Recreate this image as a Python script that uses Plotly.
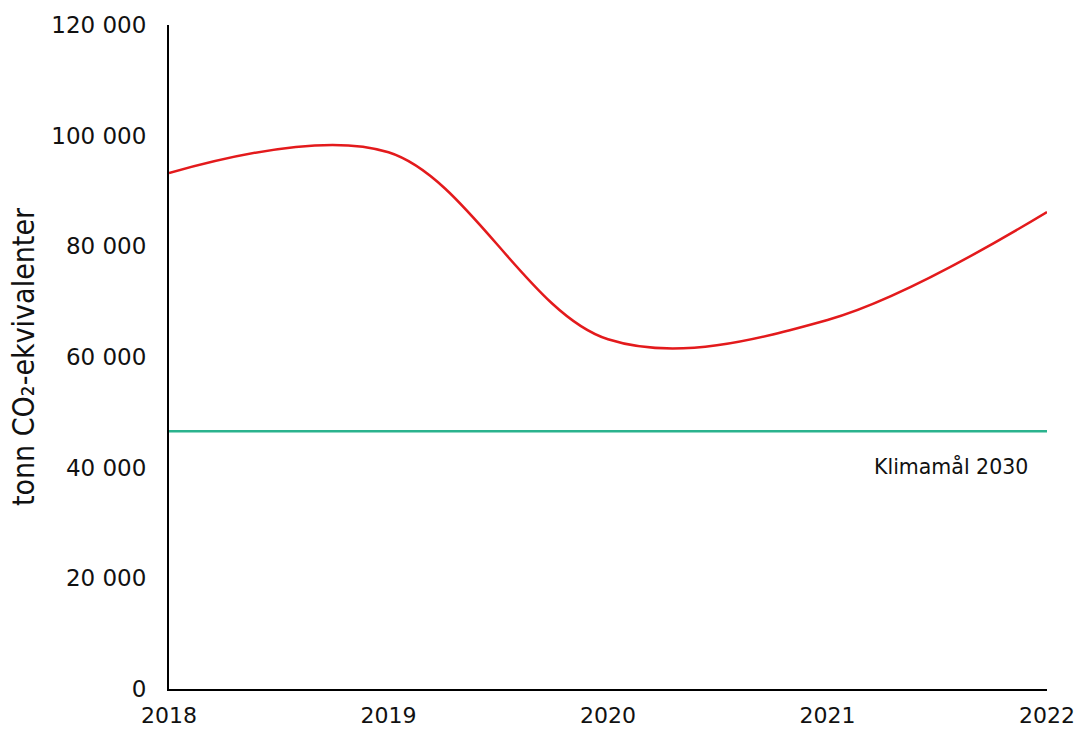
import plotly.graph_objects as go

years = [2018, 2019, 2020, 2021, 2022]
emissions = [93250, 97000, 63200, 66700, 86200]
target_2030 = 46600
target_label = "Klimamål 2030"
y_title = "tonn CO₂-ekvivalenter"
y_ticks = [0, 20000, 40000, 60000, 80000, 100000, 120000]
y_ticktext = ["0", "20 000", "40 000", "60 000", "80 000", "100 000", "120 000"]

fig = go.Figure()

fig.add_trace(go.Scatter(
    x=years, y=emissions, mode="lines",
    line=dict(color="#e31a1c", width=2.5, shape="spline", smoothing=1.0),
    showlegend=False, hoverinfo="x+y",
))

fig.add_trace(go.Scatter(
    x=years, y=[target_2030] * len(years), mode="lines",
    line=dict(color="#2bb38e", width=2.5),
    showlegend=False, hoverinfo="y",
))

fig.add_annotation(
    x=years[-1], y=target_2030, xref="x", yref="y",
    text=target_label, showarrow=False,
    xanchor="right", yanchor="top", yshift=-21, xshift=-17,
    font=dict(family="DejaVu Sans", size=20.5, color="#111111"),
)

fig.update_layout(
    width=1079, height=731,
    margin=dict(l=169, r=32, t=25, b=42),
    paper_bgcolor="white", plot_bgcolor="white",
    font=dict(family="DejaVu Sans", size=22, color="#111111"),
    xaxis=dict(
        range=[years[0], years[-1]], tickvals=years,
        ticktext=[str(y) for y in years],
        showgrid=False, zeroline=False, automargin=False,
        showline=True, linecolor="black", linewidth=2,
        ticks="outside", ticklen=6, tickcolor="rgba(0,0,0,0)",
        tickfont=dict(size=22),
    ),
    yaxis=dict(
        range=[0, 120000], tickvals=y_ticks, ticktext=y_ticktext,
        showgrid=False, zeroline=False, automargin=False,
        showline=True, linecolor="black", linewidth=2,
        ticks="outside", ticklen=16, tickcolor="rgba(0,0,0,0)",
        tickfont=dict(size=23),
        title=dict(text=y_title, standoff=8,
                   font=dict(family="DejaVu Sans Condensed", size=30, color="#111111")),
    ),
)

fig.write_html("out.html")
